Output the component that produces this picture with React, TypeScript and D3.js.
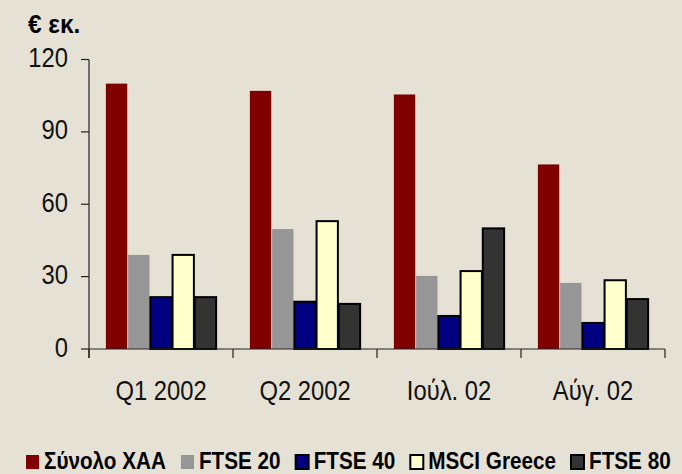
import React, { useEffect, useRef } from 'react';
import * as d3 from 'd3';

// categories on the x axis
const periods = ['Q1 2002', 'Q2 2002', 'Ιούλ. 02', 'Αύγ. 02'];
// series names (legend order)
const seriesNames = ['Σύνολο ΧΑΑ', 'FTSE 20', 'FTSE 40', 'MSCI Greece', 'FTSE 80'];
// values in € million, one array per series
const totalXAA = [110, 107, 105.5, 76.5];
const ftse20 = [39, 49.7, 30.3, 27.4];
const ftse40 = [21.5, 19.6, 13.7, 10.8];
const msciGreece = [39, 53, 32.3, 28.5];
const ftse80 = [21.5, 18.7, 50, 20.7];
const yTicks = [0, 30, 60, 90, 120];

const seriesColors = ['#800000', '#969696', '#000080', '#FFFFCC', '#333333'];
const seriesStroke = [false, false, true, true, true];

function drawChart(svgEl: SVGSVGElement) {
  const W = 682;
  const H = 474;
  const left = 89;
  const right = 665;
  const top = 59.5;
  const bottom = 349;
  const font = 'Liberation Sans, Arial, sans-serif';

  const svg = d3.select(svgEl);
  svg.selectAll('*').remove();
  svg.attr('width', W).attr('height', H);

  svg.append('rect').attr('width', W).attr('height', H).attr('fill', '#E6E1D5');

  const allSeries = [totalXAA, ftse20, ftse40, msciGreece, ftse80];

  const x0 = d3.scaleBand<string>()
    .domain(periods)
    .range([left, right])
    .paddingInner(0.222)
    .paddingOuter(0.111);

  const x1 = d3.scaleBand<string>()
    .domain(seriesNames)
    .range([0, x0.bandwidth()])
    .padding(0.04);

  const y = d3.scaleLinear().domain([0, 120]).range([bottom, top]);

  // bars
  const groups = svg.append('g')
    .selectAll('g')
    .data(periods)
    .enter().append('g')
    .attr('transform', d => `translate(${x0(d)},0)`);

  groups.selectAll('rect')
    .data((p, i) => seriesNames.map((s, si) => ({ s, si, v: allSeries[si][i] })))
    .enter().append('rect')
    .attr('x', d => x1(d.s)!)
    .attr('y', d => y(d.v))
    .attr('width', x1.bandwidth())
    .attr('height', d => bottom - y(d.v))
    .attr('fill', d => seriesColors[d.si])
    .attr('stroke', d => (seriesStroke[d.si] ? '#000' : 'none'))
    .attr('stroke-width', 2);

  // y axis
  const axisColor = '#222';
  svg.append('line')
    .attr('x1', left).attr('x2', left)
    .attr('y1', top).attr('y2', bottom + 9)
    .attr('stroke', axisColor).attr('stroke-width', 1.2);

  yTicks.forEach(t => {
    svg.append('line')
      .attr('x1', left - 8).attr('x2', left)
      .attr('y1', y(t)).attr('y2', y(t))
      .attr('stroke', axisColor).attr('stroke-width', 1.2);
    svg.append('text')
      .attr('transform', `translate(68,${y(t) + 7.5}) scale(0.85,1)`)
      .attr('text-anchor', 'end')
      .style('font-family', font)
      .style('font-size', '28px')
      .attr('fill', '#111')
      .text(t);
  });

  // x axis
  svg.append('line')
    .attr('x1', left).attr('x2', right)
    .attr('y1', bottom).attr('y2', bottom)
    .attr('stroke', axisColor).attr('stroke-width', 1.2);

  const bounds = periods.map(p => x0(p)! - x0.step() * x0.paddingInner() / 2).concat([right]);
  bounds.forEach(bx => {
    svg.append('line')
      .attr('x1', bx).attr('x2', bx)
      .attr('y1', bottom).attr('y2', bottom + 9)
      .attr('stroke', axisColor).attr('stroke-width', 1.2);
  });

  periods.forEach(p => {
    svg.append('text')
      .attr('transform', `translate(${x0(p)! + x0.bandwidth() / 2},400) scale(0.85,1)`)
      .attr('text-anchor', 'middle')
      .style('font-family', font)
      .style('font-size', '28px')
      .attr('fill', '#111')
      .text(p);
  });

  // unit title
  svg.append('text')
    .attr('transform', 'translate(28,33) scale(0.94,1)')
    .style('font-family', font)
    .style('font-size', '26px')
    .style('font-weight', 'bold')
    .attr('fill', '#000')
    .text('€ εκ.');

  // legend, laid out as a row
  let lx = 26;
  seriesNames.forEach((s, i) => {
    svg.append('rect')
      .attr('x', lx).attr('y', 455)
      .attr('width', 13).attr('height', 14)
      .attr('fill', seriesColors[i])
      .attr('stroke', seriesStroke[i] ? '#000' : 'none')
      .attr('stroke-width', 2);
    const t = svg.append('text')
      .attr('transform', `translate(${lx + 18},469) scale(0.9,1)`)
      .style('font-family', font)
      .style('font-size', '23px')
      .style('font-weight', 'bold')
      .attr('fill', '#000')
      .text(s);
    const w = (t.node() as SVGTextElement).getComputedTextLength() * 0.9;
    lx += 18 + w + 15;
  });
}

const App = () => {
  const ref = useRef<SVGSVGElement>(null);
  useEffect(() => {
    document.body.style.margin = '0';
    if (ref.current) drawChart(ref.current);
  }, []);
  return <svg ref={ref} style={{ display: 'block' }} />;
};

export default App;
